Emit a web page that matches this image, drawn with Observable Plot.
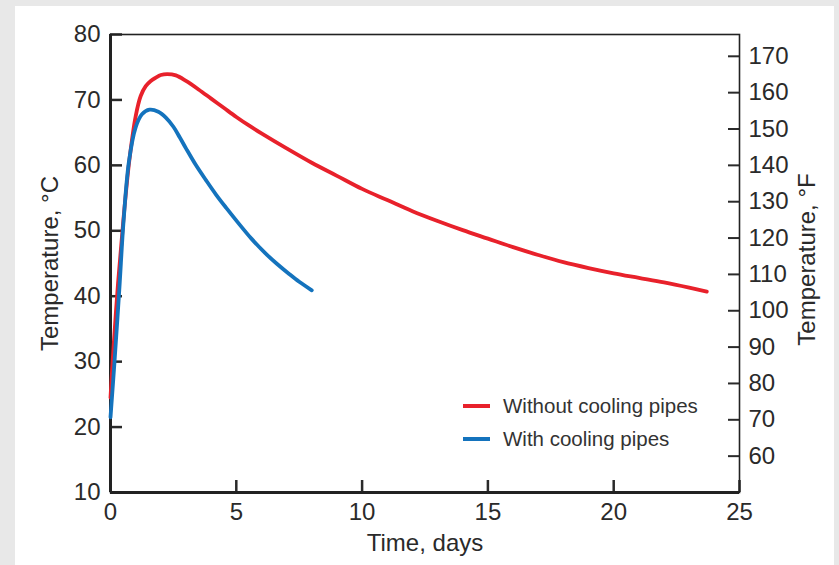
<!DOCTYPE html>
<html>
<head>
<meta charset="utf-8">
<script src="https://cdn.jsdelivr.net/npm/d3@7"></script>
<script src="https://cdn.jsdelivr.net/npm/@observablehq/plot@0.6"></script>
<style>
  html, body { margin: 0; padding: 0; }
  body { width: 839px; height: 565px; background: #e8e8e8; position: relative; overflow: hidden;
         font-family: "Liberation Sans", Arial, Helvetica, sans-serif; }
  #card { position: absolute; left: 15px; top: 6px; width: 819px; height: 570px; background: #ffffff; }
  #chart { position: absolute; left: 0; top: 0; }
  #legend { position: absolute; left: 463px; top: 389px; font-size: 20.5px; color: #333; }
  .item { display: flex; align-items: center; height: 33px; }
  .swatch { width: 27px; height: 4px; margin-right: 13px; }
</style>
</head>
<body>
<div id="card"></div>
<div id="chart"></div>
<div id="legend"></div>
<script>
// Series: time (days) and temperature (°C)
const seriesNames = ["Without cooling pipes", "With cooling pipes"];
const seriesColors = ["#e8212b", "#1473bd"];

const daysWithout = [0, 0.1, 0.3, 0.52, 0.75, 1.0, 1.2, 1.4, 1.6, 1.8, 2.0, 2.25, 2.6, 3.0, 3.5, 4.0, 4.5, 5.0, 5.5, 6.0, 7.0, 8.0, 9.0, 10, 11, 12, 13, 14, 15, 16, 17, 18, 19, 20, 21, 22, 23, 23.7];
const tempWithout = [24.5, 31, 42, 52, 60.8, 67.5, 70.6, 72.1, 72.9, 73.4, 73.8, 73.95, 73.75, 72.9, 71.6, 70.2, 68.8, 67.4, 66.1, 64.9, 62.6, 60.4, 58.4, 56.4, 54.7, 53.0, 51.5, 50.1, 48.8, 47.5, 46.3, 45.2, 44.3, 43.5, 42.8, 42.1, 41.3, 40.7];

const daysWith = [0, 0.16, 0.35, 0.52, 0.73, 1.0, 1.25, 1.55, 1.9, 2.2, 2.5, 2.75, 3.0, 3.4, 3.8, 4.2, 4.6, 5.1, 5.6, 6.2, 6.6, 7.1, 7.5, 8.0];
const tempWith = [21.5, 30, 41, 51.5, 60.5, 65.8, 67.8, 68.5, 68.2, 67.3, 65.9, 64.3, 62.6, 60.0, 57.7, 55.5, 53.5, 51.1, 48.8, 46.4, 45.0, 43.4, 42.2, 40.9];

const xTicks = [0, 5, 10, 15, 20, 25];
const cTicks = [10, 20, 30, 40, 50, 60, 70, 80];
const fTicks = [60, 70, 80, 90, 100, 110, 120, 130, 140, 150, 160, 170];

const rows = [
  ...daysWithout.map((d, i) => ({series: seriesNames[0], day: d, temp: tempWithout[i]})),
  ...daysWith.map((d, i) => ({series: seriesNames[1], day: d, temp: tempWith[i]}))
];

const toC = f => (f - 32) * 5 / 9;

const chart = Plot.plot({
  width: 839,
  height: 565,
  marginLeft: 110,
  marginRight: 100,
  marginTop: 34,
  marginBottom: 73,
  style: {fontFamily: "'Liberation Sans', Arial, sans-serif", fontSize: "24px", color: "#2a2a2a", background: "transparent"},
  x: {domain: [0, 25]},
  y: {domain: [10, 80]},
  color: {domain: seriesNames, range: seriesColors},
  marks: [
    Plot.axisX({ticks: xTicks, tickSize: -12, tickPadding: 22, strokeWidth: 2.5, fontSize: 24, label: null}),
    Plot.axisY({ticks: cTicks, tickSize: -12, tickPadding: 22, strokeWidth: 2.5, fontSize: 24, label: null}),
    Plot.axisY({anchor: "right", ticks: fTicks.map(toC), tickFormat: c => Math.round(c * 9 / 5 + 32),
                tickSize: -12, tickPadding: 21, strokeWidth: 2, fontSize: 24, label: null}),
    Plot.frame({stroke: "#222", strokeWidth: 1.6}),
    Plot.ruleX([0], {stroke: "#222", strokeWidth: 3}),
    Plot.ruleY([10], {stroke: "#222", strokeWidth: 3}),
    Plot.line(rows, {x: "day", y: "temp", stroke: "series", z: "series", strokeWidth: 3.8, curve: "catmull-rom"}),
    Plot.text(["Temperature, °C"], {frameAnchor: "left", textAnchor: "middle", rotate: -90, dx: -60, fontSize: 24, fill: "#2a2a2a"}),
    Plot.text(["Temperature, °F"], {frameAnchor: "right", textAnchor: "middle", rotate: -90, dx: 68, dy: -4, fontSize: 24, fill: "#2a2a2a"}),
    Plot.text(["Time, days"], {frameAnchor: "bottom", dy: 58, fontSize: 24, fill: "#2a2a2a"})
  ]
});
document.getElementById("chart").appendChild(chart);

const legend = document.getElementById("legend");
seriesNames.forEach((name, i) => {
  const item = document.createElement("div");
  item.className = "item";
  const sw = document.createElement("div");
  sw.className = "swatch";
  sw.style.background = seriesColors[i];
  const label = document.createElement("span");
  label.textContent = name;
  item.appendChild(sw);
  item.appendChild(label);
  legend.appendChild(item);
});
</script>
</body>
</html>
